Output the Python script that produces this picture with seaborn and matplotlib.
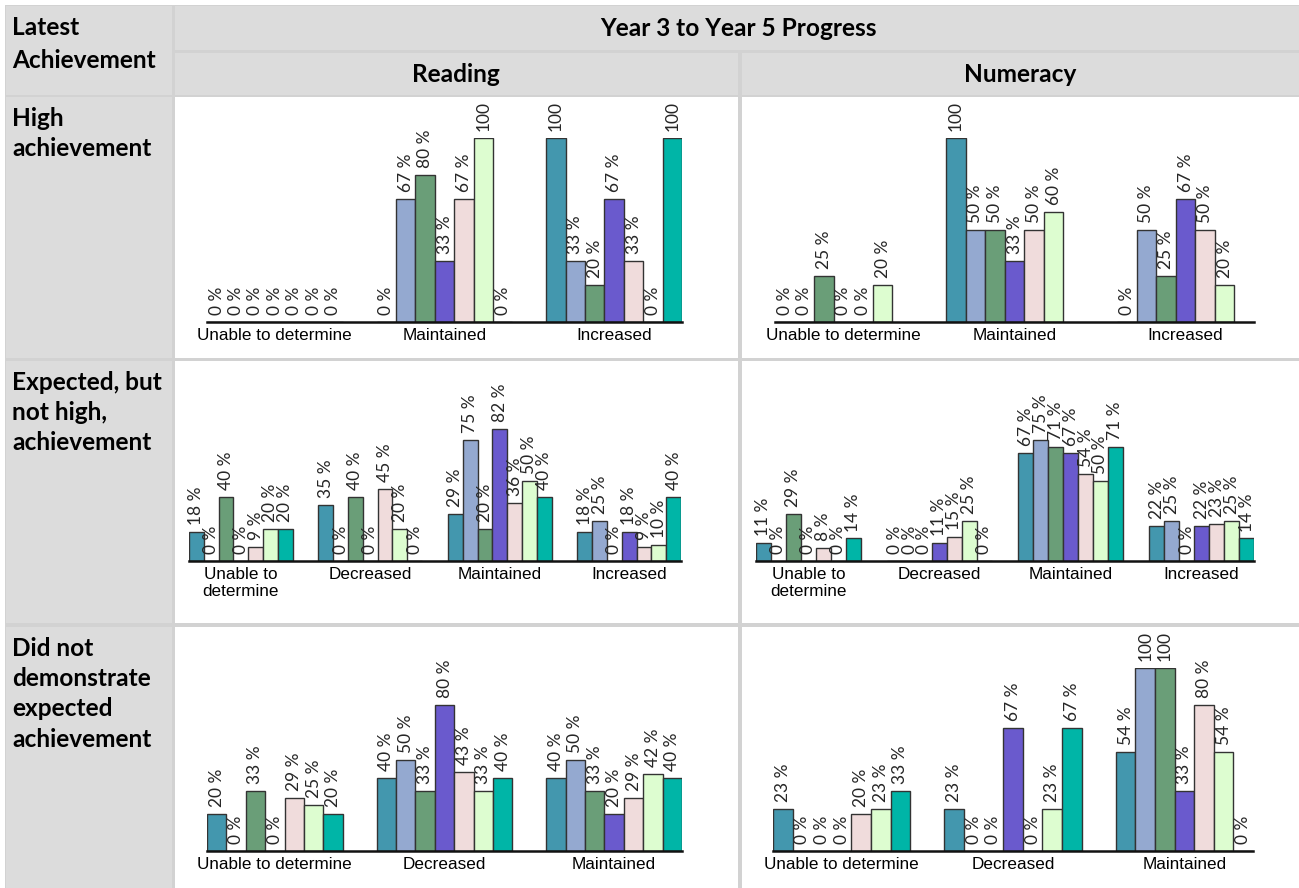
import numpy as np
import pandas as pd
import matplotlib.pyplot as plt
from matplotlib.patches import Rectangle
import seaborn as sns

sns.set_style('white')
plt.rcParams['font.family'] = ['Liberation Sans', 'DejaVu Sans']

W, H = 1299, 888

series = ['S1', 'S2', 'S3', 'S4', 'S5', 'S6', 'S7']
colors = ['#4397AE', '#94A9D0', '#6A9E78', '#6A5ACD', '#F0DCDC', '#DDFDD0', '#00B5A7']

cats_high = ['Unable to determine', 'Maintained', 'Increased']
cats_expected = ['Unable to\ndetermine', 'Decreased', 'Maintained', 'Increased']
cats_below = ['Unable to determine', 'Decreased', 'Maintained']

# one row per category, one column per series (None = no bar)
high_reading = [[0, 0, 0, 0, 0, 0, 0],
                [0, 67, 80, 33, 67, 100, 0],
                [100, 33, 20, 67, 33, 0, 100]]
high_numeracy = [[0, 0, 25, 0, 0, 20, None],
                 [100, 50, 50, 33, 50, 60, None],
                 [0, 50, 25, 67, 50, 20, None]]
expected_reading = [[18, 0, 40, 0, 9, 20, 20],
                    [35, 0, 40, 0, 45, 20, 0],
                    [29, 75, 20, 82, 36, 50, 40],
                    [18, 25, 0, 18, 9, 10, 40]]
expected_numeracy = [[11, 0, 29, 0, 8, 0, 14],
                     [0, 0, 0, 11, 15, 25, 0],
                     [67, 75, 71, 67, 54, 50, 71],
                     [22, 25, 0, 22, 23, 25, 14]]
below_reading = [[20, 0, 33, 0, 29, 25, 20],
                 [40, 50, 33, 80, 43, 33, 40],
                 [40, 50, 33, 20, 29, 42, 40]]
below_numeracy = [[23, 0, 0, 0, 20, 23, 33],
                  [23, 0, 0, 67, 0, 23, 67],
                  [54, 100, 100, 33, 80, 54, 0]]

row_labels = ['High\nachievement',
              'Expected, but\nnot high,\nachievement',
              'Did not\ndemonstrate\nexpected\nachievement']


def fbox(x0, y0, x1, y1):
    """pixel box (top-left origin) -> figure fraction [l, b, w, h]"""
    return [x0 / W, 1 - y1 / H, (x1 - x0) / W, (y1 - y0) / H]


def cell(fig, x0, y0, x1, y1, color):
    l, b, w, h = fbox(x0, y0, x1, y1)
    fig.add_artist(Rectangle((l, b), w, h, transform=fig.transFigure,
                             facecolor=color, edgecolor='none', zorder=-10))


def to_long(cats, values):
    rows = []
    for c, vals in zip(cats, values):
        for s, v in zip(series, vals):
            if v is not None:
                rows.append({'cat': c, 'series': s, 'value': v})
    return pd.DataFrame(rows)


def fmt_label(v):
    if np.isnan(v):
        return ''
    return '%d' % round(v) if v >= 100 else '%d %%' % round(v)


def panel(fig, pos, cats, values):
    ax = fig.add_axes(fbox(*pos))
    df = to_long(cats, values)
    sns.barplot(data=df, x='cat', y='value', hue='series', order=cats,
                hue_order=series, palette=colors, saturation=1,
                edgecolor='#333333', linewidth=1.0, errorbar=None,
                legend=False, ax=ax)
    for c in ax.containers:
        ax.bar_label(c, fmt=fmt_label, rotation=90, padding=5,
                     fontsize=12.5, family='Lato')
    ax.set_xlim(-0.4, len(cats) - 0.6)
    ax.set_ylim(0, 100)
    ax.set_yticks([])
    ax.set_xlabel('')
    ax.set_ylabel('')
    ax.set_facecolor('none')
    sns.despine(ax=ax, left=True)
    ax.spines['bottom'].set_linewidth(1.8)
    ax.spines['bottom'].set_color('#111111')
    ax.tick_params(axis='x', length=0, pad=4, labelsize=12.3, labelcolor='black')
    return ax


fig = plt.figure(figsize=(W / 100, H / 100), dpi=100)

# table background and cells
grid = '#D2D2D2'
head = '#DCDCDC'
cell(fig, 5, 5, W, H, grid)
cell(fig, 6, 6, 172, 95, head)
cell(fig, 175, 6, W, 50, head)
cell(fig, 175, 53, 738, 95, head)
cell(fig, 742, 53, W, 95, head)
row_y = [(97, 358), (361, 623), (627, H)]
for y0, y1 in row_y:
    cell(fig, 6, y0, 172, y1, head)
    cell(fig, 175, y0, 738, y1, 'white')
    cell(fig, 742, y0, W, y1, 'white')

# header texts
hfont = dict(family='Lato', fontweight='bold', fontsize=17.6, color='black')
fig.text(12 / W, 1 - 16 / H, 'Latest\nAchievement', ha='left', va='top',
         linespacing=1.5, **hfont)
fig.text(738 / W, 1 - 28 / H, 'Year 3 to Year 5 Progress', ha='center',
         va='center', **hfont)
fig.text(456 / W, 1 - 74 / H, 'Reading', ha='center', va='center', **hfont)
fig.text(1020 / W, 1 - 74 / H, 'Numeracy', ha='center', va='center', **hfont)
for (y0, y1), lab in zip(row_y, row_labels):
    fig.text(12 / W, 1 - (y0 + 10) / H, lab, ha='left', va='top',
             linespacing=1.38, **hfont)

# charts
panel(fig, (207, 138, 682, 322), cats_high, high_reading)
panel(fig, (775, 138, 1254, 322), cats_high, high_numeracy)
panel(fig, (189, 400, 681, 561), cats_expected, expected_reading)
panel(fig, (756, 400, 1254, 561), cats_expected, expected_numeracy)
panel(fig, (207, 668, 682, 851), cats_below, below_reading)
panel(fig, (773, 668, 1253, 851), cats_below, below_numeracy)

fig.savefig('out.png', dpi=100)
